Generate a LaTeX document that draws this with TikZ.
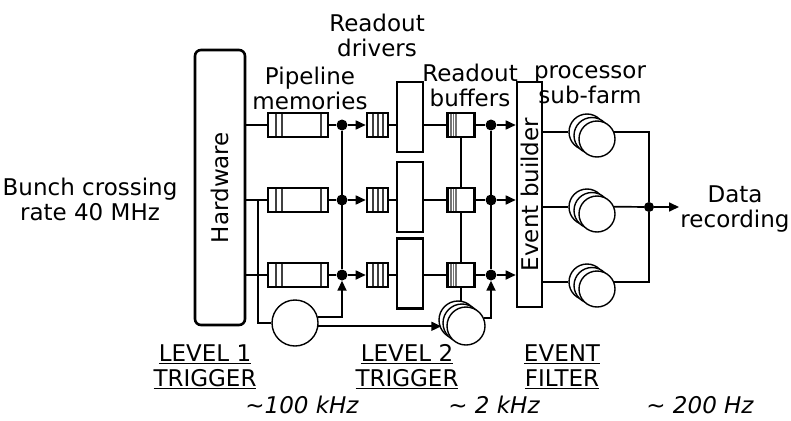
\documentclass[tikz,border=0pt]{standalone}
\usepackage{fontspec}
\setmainfont{DejaVu Sans}
\usetikzlibrary{arrows.meta,calc}
\begin{document}
\begin{tikzpicture}[x=1pt,y=-1pt,
  font=\fontsize{23}{25}\selectfont,
  box/.style={draw, line width=2.6pt, fill=white, inner sep=0pt},
  conn/.style={line width=1.7pt},
  arr/.style={conn, -{Triangle[length=10pt,width=9pt]}},
  dot/.style={circle, fill, inner sep=0pt, minimum size=11pt},
  sdot/.style={circle, fill, inner sep=0pt, minimum size=10pt},
  lbl/.style={align=center, inner sep=0pt},
  stripe/.style={line width=1.3pt, black!75},
  pipe/.style={box, minimum width=60pt, minimum height=24pt, path picture={
    \foreach \xx in {8,14} \draw[stripe] ([xshift=\xx pt]path picture bounding box.north west) -- ([xshift=\xx pt]path picture bounding box.south west);
    \draw[stripe] ([xshift=-7pt]path picture bounding box.north east) -- ([xshift=-7pt]path picture bounding box.south east);}},
  sbox/.style={box, minimum width=21pt, minimum height=24pt, path picture={
    \foreach \xx in {6,11,16} \draw[stripe] ([xshift=\xx pt]path picture bounding box.north west) -- ([xshift=\xx pt]path picture bounding box.south west);}},
  buf/.style={box, minimum width=27pt, minimum height=24pt, path picture={
    \foreach \xx in {3.5,6,8.5} \draw[line width=1.3pt, black!55] ([xshift=\xx pt]path picture bounding box.north west) -- ([xshift=\xx pt]path picture bounding box.south west);}},
  drv/.style={box, minimum width=26pt, minimum height=70pt},
  cpu/.style={circle, draw, line width=1.4pt, fill=white, inner sep=0pt, minimum size=#1},
  cpu/.default=36pt]

\useasboundingbox (0,0) rectangle (791,420);

% Hardware and event builder
\node[box, rounded corners=6pt, minimum width=50pt, minimum height=275pt] (hw) at (220,187.5) {};
\node[rotate=90, inner sep=0pt] (hwt) at (hw.center) {Hardware};
\node[box, minimum width=25pt, minimum height=225pt] (eb) at (529.5,194.5) {};
\node[rotate=90, inner sep=0pt] (ebt) at (eb.center) {Event builder};

% rows
\foreach \i/\y in {1/125,2/200,3/275} {
  \node[pipe] (p\i) at (298,\y) {};
  \node[dot] (d\i) at (342,\y) {};
  \node[sbox] (s\i) at (377.5,\y) {};
  \node[buf] (b\i) at (461,\y) {};
  \node[dot] (e\i) at (491,\y) {};
}
\node[drv] (dr1) at (410,117) {};
\node[drv] (dr2) at (410,197) {};
\node[drv] (dr3) at (410,273.5) {};

\foreach \i in {1,2,3} {
  \draw[conn] (hw.east |- p\i) -- (p\i.west);
  \draw[conn] (p\i.east) -- (d\i);
  \draw[arr] (d\i) -- (s\i.west);
  \draw[conn] (s\i.east) -- (s\i.east -| dr\i.west);
  \draw[conn] (dr\i.east |- b\i) -- (b\i.west);
  \draw[conn] (b\i.east) -- (e\i);
  \draw[arr] (e\i) -- (e\i -| eb.west);
}
\draw[conn] (d1) -- (d3);
\draw[conn] (e1) -- (e3);
\draw[conn] (b1.south) -- (b2.north);
\draw[conn] (b2.south) -- (b3.north);

% level 1 trigger processor
\node[cpu=46pt] (l1) at (295,323) {};
\coordinate (bus) at (258,200);
\draw[conn] (bus) |- (l1.west);
\draw[arr] (l1.15) -| (d3.south);

% level 2 trigger farm
\draw[conn] (b3.south) -- ++(0,30);
\node[cpu=38pt] (l2a) at (458,320) {};
\node[cpu=38pt] (l2b) at (462,323) {};
\node[cpu=38pt] (l2c) at (466,326) {};
\draw[arr] (l1.-8) -- ($(l1.-8 -| l2a.west)+(3,0)$);
\draw[arr] (l2c.25) -| (e3.south);

% event filter farm
\node[sdot] (dd) at (649,207) {};
\coordinate (out) at (679,207);
\foreach \i/\y in {1/132,2/207,3/282} {
  \node[cpu] (fa\i) at (587,\y) {};
  \node[cpu] (fb\i) at (592,\y+3.5) {};
  \node[cpu] (fc\i) at (597,\y+7) {};
  \draw[conn] (eb.east |- fa\i) -- (fa\i.west);
}
\draw[conn] (fc1.23) -| (dd.north);
\draw[conn] (fc2.23) -- (dd);
\draw[conn] (fc3.23) -| (dd.south);
\draw[arr] (dd) -- (out);

% labels
\node[lbl] (t1) at (90,199) {Bunch crossing\\rate 40 MHz};
\node[lbl] (t2) at (310,88) {Pipeline\\memories};
\node[lbl] (t3) at (377,35) {Readout\\drivers};
\node[lbl] (t4) at (470,85) {Readout\\buffers};
\node[lbl] (t5) at (590,85) {processor\\sub-farm};
\node[lbl] (t6) at (735,209) {Data\\recording};
\node[lbl] (t7) at (205,367) {\underline{LEVEL 1}\\\underline{TRIGGER}};
\node[lbl] (t8) at (407,367) {\underline{LEVEL 2}\\\underline{TRIGGER}};
\node[lbl] (t9) at (562,367) {\underline{EVENT}\\\underline{FILTER}};
\node[lbl, font=\fontsize{23}{25}\selectfont\itshape] (r1) at (302,405) {\textasciitilde100 kHz};
\node[lbl, font=\fontsize{23}{25}\selectfont\itshape] (r2) at (494,405) {\textasciitilde{} 2 kHz};
\node[lbl, font=\fontsize{23}{25}\selectfont\itshape] (r3) at (700,405) {\textasciitilde{} 200 Hz};
\end{tikzpicture}
\end{document}
